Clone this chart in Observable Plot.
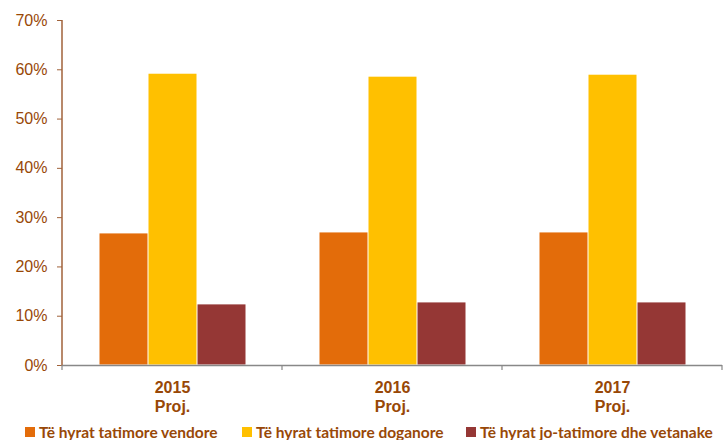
<!DOCTYPE html>
<html>
<head>
<meta charset="utf-8">
<script src="https://cdn.jsdelivr.net/npm/d3@7"></script>
<script src="https://cdn.jsdelivr.net/npm/@observablehq/plot@0.6"></script>
<style>
  body { margin: 0; background: #fff; font-family: "Liberation Sans", Arial, sans-serif; }
  #chart { position: relative; width: 726px; height: 440px; overflow: hidden; }
  .legend { position: absolute; top: 423px; left: 0; width: 726px; height: 20px; font-family: Lato, "Liberation Sans", sans-serif; font-weight: 700; font-size: 15.5px; color: #984807; }
  .legend .item { position: absolute; display: flex; align-items: center; white-space: nowrap; }
  .legend .sw { width: 10px; height: 10px; margin-right: 4px; }
</style>
</head>
<body>
<div id="chart"></div>
<script>
const years = ["2015", "2016", "2017"];
const series = ["Të hyrat tatimore vendore", "Të hyrat tatimore doganore", "Të hyrat jo-tatimore dhe vetanake"];
const colors = ["#E36C0A", "#FFC000", "#953735"];
const vendore = [0.268, 0.270, 0.270];
const doganore = [0.592, 0.586, 0.590];
const joTatimore = [0.124, 0.128, 0.128];
const yTicks = [0, 0.1, 0.2, 0.3, 0.4, 0.5, 0.6, 0.7];
const yearSub = "Proj.";

const values = [vendore, doganore, joTatimore];
const data = [];
years.forEach((y, i) => series.forEach((s, j) => data.push({year: y, series: s, value: values[j][i]})));

const brown = "#984807";
const chart = Plot.plot({
  width: 726,
  height: 420,
  marginTop: 20,
  marginBottom: 55,
  marginLeft: 61,
  marginRight: 4,
  style: {fontFamily: "'Liberation Sans', Arial, sans-serif", fontSize: "16px", color: brown, background: "transparent"},
  fx: {domain: years, padding: 0},
  x: {domain: series, paddingInner: 0, paddingOuter: 0.72, axis: null},
  y: {domain: [0, 0.7]},
  color: {domain: series, range: colors},
  marks: [
    Plot.barY(data, {fx: "year", x: "series", y: "value", fill: "series", inset: 0.5}),
    Plot.ruleY([0], {stroke: "#888", strokeWidth: 1.5}),
    Plot.axisY({ticks: yTicks, tickFormat: d3.format(".0%"), tickSize: 5, tickPadding: 10, label: null, stroke: "#a0623a", fontSize: 16, fill: brown}),
    Plot.axisFx({anchor: "bottom", tickSize: 0, tickPadding: 14, label: null, fontWeight: 700, fontSize: 16, fill: brown, lineHeight: 1.2, tickFormat: d => d + "\n" + yearSub})
  ]
});

document.getElementById("chart").appendChild(chart);

// Axis lines and boundary ticks derived from the plot's own scales
const svg = d3.select(chart);
const fx = chart.scale("fx");
const y = chart.scale("y");
const y0 = y.apply(0), y1 = y.apply(0.7);
const x0 = fx.apply(years[0]);
svg.append("line").attr("x1", x0).attr("x2", x0).attr("y1", y1).attr("y2", y0)
  .attr("stroke", "#a0623a").attr("stroke-width", 1.5);
const edges = [x0, ...years.map(v => fx.apply(v) + fx.bandwidth)];
edges.forEach(e => svg.append("line").attr("x1", e).attr("x2", e).attr("y1", y0).attr("y2", y0 + 5)
  .attr("stroke", "#888").attr("stroke-width", 1.2));

// Legend
const leg = d3.select("#chart").append("div").attr("class", "legend");
const lefts = [25, 242, 466];
series.forEach((s, i) => {
  const it = leg.append("div").attr("class", "item").style("left", lefts[i] + "px");
  it.append("div").attr("class", "sw").style("background", colors[i]);
  it.append("span").text(s);
});
</script>
</body>
</html>
